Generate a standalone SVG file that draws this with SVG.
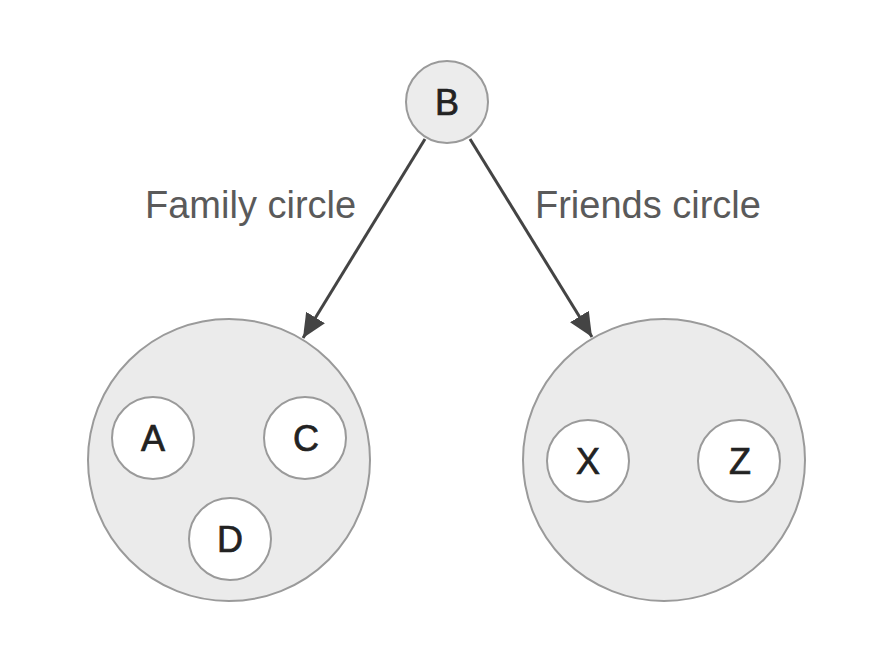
<svg xmlns="http://www.w3.org/2000/svg" width="880" height="648" viewBox="0 0 880 648">
<style>
.big{fill:#ebebeb;stroke:#9a9a9a;stroke-width:2}
.small{fill:#ffffff;stroke:#9a9a9a;stroke-width:2}
.top{fill:#ececec;stroke:#9a9a9a;stroke-width:2}
.lbl{font-family:"Liberation Sans",Arial,sans-serif;font-size:36px;fill:#222;stroke:#222;stroke-width:0.7;text-anchor:middle}
.edge{font-family:"Liberation Sans",Arial,sans-serif;font-size:38px;fill:#5a5a5a}
.conn{stroke:#444;stroke-width:3;fill:none}
</style>
<defs>
<marker id="arr" markerUnits="userSpaceOnUse" markerWidth="26" markerHeight="22" refX="24" refY="11" orient="auto">
<path d="M0,0 L24,11 L0,22 Z" fill="#444"/>
</marker>
</defs>
<rect width="880" height="648" fill="#ffffff"/>
<g id="family">
<circle class="big" cx="229" cy="460" r="141"/>
</g>
<g id="friends">
<circle class="big" cx="664" cy="460" r="141"/>
</g>
<g id="B">
<circle class="top" cx="447" cy="102" r="41"/>
<text class="lbl" x="447" y="115">B</text>
</g>
<g id="A">
<circle class="small" cx="153" cy="438" r="41"/>
<text class="lbl" x="153" y="451">A</text>
</g>
<g id="C">
<circle class="small" cx="305" cy="438" r="41"/>
<text class="lbl" x="306" y="451">C</text>
</g>
<g id="D">
<circle class="small" cx="230" cy="539" r="41"/>
<text class="lbl" x="230" y="552">D</text>
</g>
<g id="X">
<circle class="small" cx="588" cy="461" r="41"/>
<text class="lbl" x="588" y="474">X</text>
</g>
<g id="Z">
<circle class="small" cx="739" cy="461" r="41"/>
<text class="lbl" x="740" y="474">Z</text>
</g>
<g id="connectors">
<line class="conn" x1="425" y1="139" x2="303" y2="338" marker-end="url(#arr)"/>
<line class="conn" x1="470" y1="139" x2="592" y2="337" marker-end="url(#arr)"/>
<text class="edge" x="145" y="218">Family circle</text>
<text class="edge" x="535" y="218">Friends circle</text>
</g>
</svg>
